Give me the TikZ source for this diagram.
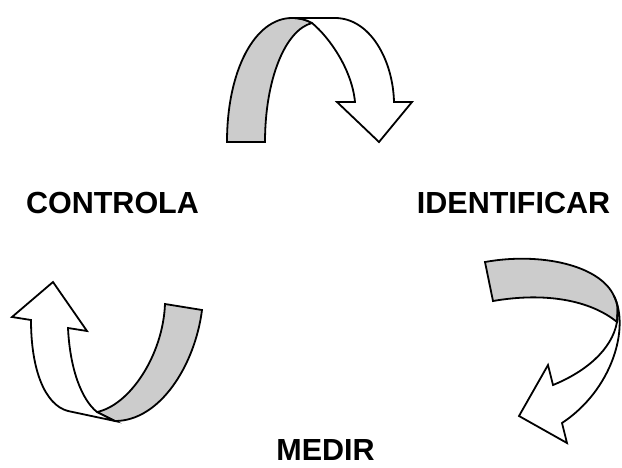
\documentclass[tikz,border=0pt]{standalone}
\usepackage{fontspec}
\setmainfont{Liberation Sans}
\begin{document}
\begin{tikzpicture}[x=1pt,y=-1pt,
  band/.style={draw=black,line width=1.8pt,line join=miter},
  shade/.style={band,fill=black!20},
  paper/.style={band,fill=white},
  word/.style={font=\fontsize{30.5}{36}\selectfont\bfseries,inner sep=0pt,anchor=base}]
\useasboundingbox (0,0) rectangle (622,467);

% top arrow: grey back of the band, white front with the head
\path[shade] (227,142) .. controls (227,70) and (255,18) .. (292,18)
  .. controls (300,18) and (307,20) .. (312,23)
  .. controls (285,30) and (265,80) .. (265,142) -- cycle;
\path[paper] (292,18) -- (335,18) .. controls (370,18) and (393,60) .. (394,102)
  -- (412,102) -- (379,142) -- (337,102) -- (355,102)
  .. controls (352,70) and (330,38) .. (312,23)
  .. controls (307,20) and (300,18) .. (292,18) -- cycle;

% right arrow
\path[shade] (485,262) .. controls (540,252) and (600,265) .. (614,296)
  .. controls (618,305) .. (617,322)
  .. controls (590,300) and (545,292) .. (493,301) -- cycle;
\path[paper] (614,296) .. controls (630,328) and (612,390) .. (562,423)
  -- (567,443) -- (519,416) -- (548,365) -- (553,385)
  .. controls (585,372) and (612,350) .. (617,322)
  .. controls (618,305) .. (614,296) -- cycle;

% left arrow
\path[shade] (165,304) -- (202,310) .. controls (195,365) and (160,421) .. (115,421)
  -- (97,412) .. controls (130,405) and (163,355) .. (165,304) -- cycle;
\path[paper] (31,320) -- (12,317) -- (53,282) -- (87,331) -- (68,328)
  .. controls (70,370) and (82,400) .. (97,412) -- (115,421) -- (68,411)
  .. controls (45,405) and (31,370) .. (31,320) -- cycle;

% labels
\node[word] (controla) at (112.5,213) {CONTROLA};
\node[word] (identificar) at (513.5,213) {IDENTIFICAR};
\node[word] (medir) at (325.5,460) {MEDIR};
\end{tikzpicture}
\end{document}
